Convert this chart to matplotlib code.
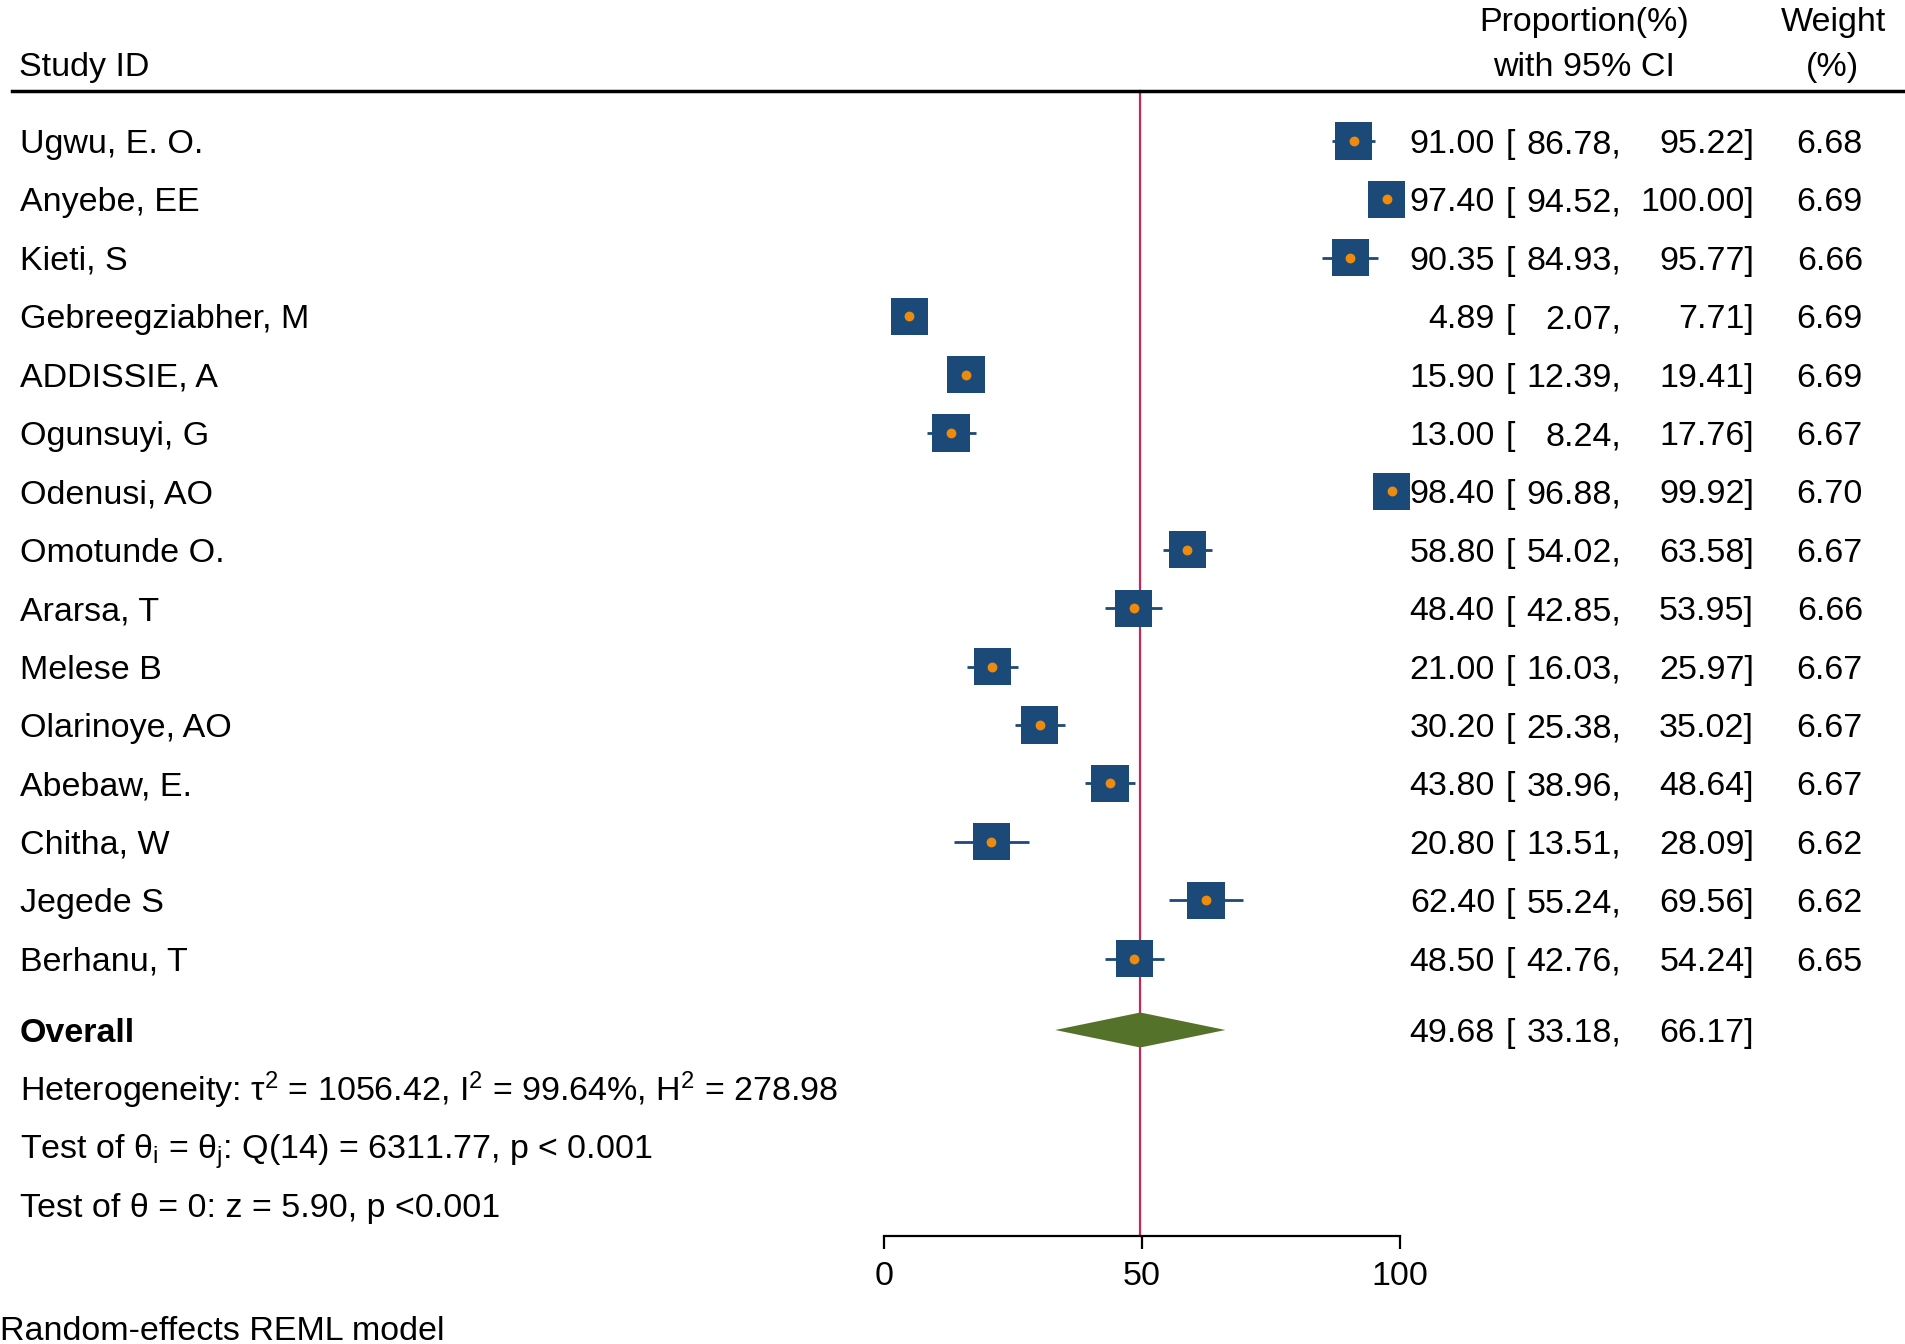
import numpy as np
import matplotlib
matplotlib.use("Agg")
import matplotlib.pyplot as plt
from matplotlib.patches import Polygon

plt.rcParams['font.family'] = ['Liberation Sans', 'DejaVu Sans']
plt.rcParams['mathtext.fontset'] = 'custom'
plt.rcParams['mathtext.rm'] = 'Liberation Sans'
plt.rcParams['mathtext.it'] = 'Liberation Sans:italic'

studies = ['Ugwu, E. O.', 'Anyebe, EE', 'Kieti, S', 'Gebreegziabher, M', 'ADDISSIE, A',
           'Ogunsuyi, G', 'Odenusi, AO', 'Omotunde O.', 'Ararsa, T', 'Melese B',
           'Olarinoye, AO', 'Abebaw, E.', 'Chitha, W', 'Jegede S', 'Berhanu, T']
est = [91.00, 97.40, 90.35, 4.89, 15.90, 13.00, 98.40, 58.80, 48.40, 21.00, 30.20, 43.80, 20.80, 62.40, 48.50]
lower = [86.78, 94.52, 84.93, 2.07, 12.39, 8.24, 96.88, 54.02, 42.85, 16.03, 25.38, 38.96, 13.51, 55.24, 42.76]
upper = [95.22, 100.00, 95.77, 7.71, 19.41, 17.76, 99.92, 63.58, 53.95, 25.97, 35.02, 48.64, 28.09, 69.56, 54.24]
weights = [6.68, 6.69, 6.66, 6.69, 6.69, 6.67, 6.70, 6.67, 6.66, 6.67, 6.67, 6.67, 6.62, 6.62, 6.65]
overall_est, overall_lo, overall_hi = 49.68, 33.18, 66.17
het_text = r'Heterogeneity: τ$^2$ = 1056.42, I$^2$ = 99.64%, H$^2$ = 278.98'
test1_text = r'Test of θ$_\mathrm{i}$ = θ$_\mathrm{j}$: Q(14) = 6311.77, p < 0.001'
test2_text = 'Test of θ = 0: z = 5.90, p <0.001'
xticks = [0, 50, 100]

W, H = 1905, 1344
fig = plt.figure(figsize=(W / 100, H / 100), dpi=100)
ax = fig.add_axes([0, 0, 1, 1])

# pixel layout -> data units
x0px, x100px = 884, 1400
ppu = (x100px - x0px) / 100.0
row0px, rowh = 141, 58.4
ax.set_xlim(-x0px / ppu, (W - x0px) / ppu)
ax.set_ylim((H - row0px) / rowh, -row0px / rowh)

def px(x):
    return (x - x0px) / ppu

def py(y):
    return (y - row0px) / rowh

navy = '#1c4a78'
orange = '#ee8a0c'
green = '#55722b'
red = '#c4285a'
fs = 24.5
va = 'center_baseline'

rows = np.arange(len(studies))

# reference line at the overall estimate
ax.plot([overall_est, overall_est], [py(91), py(1236)], color=red, lw=1.6, zorder=1)

# CIs, squares, dots
for i in rows:
    ax.plot([lower[i], upper[i]], [i, i], color=navy, lw=2, zorder=2, solid_capstyle='butt')
sizes = 720 * np.array(weights) / 6.68
ax.scatter(est, rows, marker='s', s=sizes, color=navy, linewidths=0, zorder=3)
ax.scatter(est, rows, marker='o', s=50, color=orange, linewidths=0, zorder=4)

# overall diamond
yo = py(1030)
hh = 17.5 / rowh
ax.add_patch(Polygon([[overall_lo, yo], [overall_est, yo - hh], [overall_hi, yo], [overall_est, yo + hh]],
                     closed=True, facecolor=green, edgecolor='none', zorder=3))

# header
ax.text(px(19), py(64), 'Study ID', fontsize=fs, ha='left', va=va)
ax.text(px(1584), py(19), 'Proportion(%)', fontsize=fs, ha='center', va=va)
ax.text(px(1584), py(64), 'with 95% CI', fontsize=fs, ha='center', va=va)
ax.text(px(1834), py(19), 'Weight', fontsize=fs, ha='center', va=va)
ax.text(px(1832), py(64), '(%)', fontsize=fs, ha='center', va=va)
ax.plot([px(12), px(W)], [py(91), py(91)], color='black', lw=2.5, zorder=1)

# rows of text
def row_text(y, e, lo, hi, w=None):
    ax.text(px(1495), y, f'{e:.2f}', fontsize=fs, ha='right', va=va)
    ax.text(px(1506), y, '[', fontsize=fs, ha='left', va=va)
    ax.text(px(1621), y, f'{lo:.2f},', fontsize=fs, ha='right', va=va)
    ax.text(px(1754), y, f'{hi:.2f}]', fontsize=fs, ha='right', va=va)
    if w is not None:
        ax.text(px(1863), y, f'{w:.2f}', fontsize=fs, ha='right', va=va)

for i in rows:
    ax.text(px(20), i, studies[i], fontsize=fs, ha='left', va=va)
    row_text(i, est[i], lower[i], upper[i], weights[i])

ax.text(px(20), yo, 'Overall', fontsize=fs, fontweight='bold', ha='left', va=va)
row_text(yo, overall_est, overall_lo, overall_hi)
ax.text(px(20), py(1085), het_text, fontsize=fs, ha='left', va=va)
ax.text(px(20), py(1146), test1_text, fontsize=fs, ha='left', va=va)
ax.text(px(20), py(1205), test2_text, fontsize=fs, ha='left', va=va)
ax.text(px(0), py(1328), 'Random-effects REML model', fontsize=fs, ha='left', va=va)

# x axis
for s in ['top', 'right', 'left']:
    ax.spines[s].set_visible(False)
ax.spines['bottom'].set_position(('data', py(1236)))
ax.spines['bottom'].set_bounds(0, 100)
ax.spines['bottom'].set_linewidth(1.6)
ax.set_xticks(xticks)
ax.set_xticklabels([str(t) for t in xticks], fontsize=fs)
ax.tick_params(axis='x', direction='out', length=9, width=1.6, pad=9)
ax.set_yticks([])
ax.patch.set_visible(False)

fig.savefig('out.png', dpi=100)
